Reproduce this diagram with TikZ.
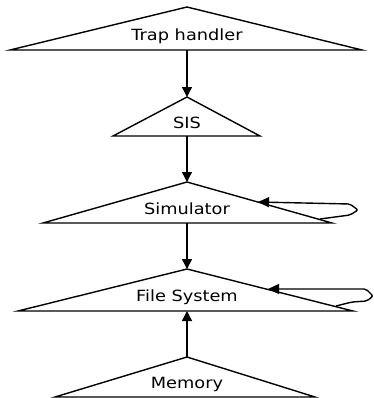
\documentclass[tikz,border=0pt]{standalone}
\usepackage{fontspec}
\newfontfamily\layerfont[FakeStretch=1.15]{DejaVu Sans}
\usetikzlibrary{arrows.meta,positioning}
\tikzset{
  layer/.style={draw=black, line width=1.4bp, line join=miter},
  layertext/.style={font=\layerfont\fontsize{15.5}{17}\selectfont, inner sep=0pt, anchor=base},
  arrow/.style={-{Triangle[length=10bp,width=10bp]}, line width=1.4bp},
  loop/.style={-{Triangle[length=11bp,width=10bp]}, line width=1.4bp, rounded corners=2bp}
}

\begin{document}
\begin{tikzpicture}[x=1bp, y=-1bp]
  \useasboundingbox (0,0) rectangle (374,398);
  % corners of the layers
  \coordinate (trap-apex) at (187,7);
  \coordinate (trap-base) at (187,50);
  \coordinate (sis-apex) at (187,97);
  \coordinate (sis-base) at (187,136);
  \coordinate (sim-apex) at (187,182);
  \coordinate (sim-base) at (187,223);
  \coordinate (fs-apex) at (187,269);
  \coordinate (fs-base) at (187,311);
  \coordinate (mem-apex) at (187,357);
  \coordinate (mem-base) at (187,397);

  \draw[layer] (trap-apex) -- (362,50) -- (10,50) -- cycle;
  \draw[layer] (sis-apex) -- (260,136) -- (113,136) -- cycle;
  \draw[layer] (sim-apex) -- (332,223) -- (43,223) -- cycle;
  \draw[layer] (fs-apex) -- (353,311) -- (18,311) -- cycle;
  \draw[layer] (mem-apex) -- (315,397) -- (55,397) -- cycle;

  \node[layertext] (trap) at (187,40) {Trap handler};
  \node[layertext] (sis) at (187,128) {SIS};
  \node[layertext] (sim) at (187,214) {Simulator};
  \node[layertext] (fs) at (187,301) {File System};
  \node[layertext] (mem) at (187,388) {Memory};

  \draw[arrow] (trap-base) -- (sis-apex);
  \draw[arrow] (sis-base) -- (sim-apex);
  \draw[arrow] (sim-base) -- (fs-apex);
  \draw[arrow] (mem-apex) -- (fs-base);

  % self loops
  \coordinate (sim-loopout) at (320,219);
  \coordinate (sim-loopin) at (258,202);
  \coordinate (fs-loopout) at (336,306);
  \coordinate (fs-loopin) at (268,289);
  \draw[loop] (sim-loopout) -- (350,215) -- (358,210) -- (350,204) -- (sim-loopin);
  \draw[loop] (fs-loopout) -- (352,302) -- (367,301) -- (373,296) -- (366,289) -- (fs-loopin);
\end{tikzpicture}
\end{document}
